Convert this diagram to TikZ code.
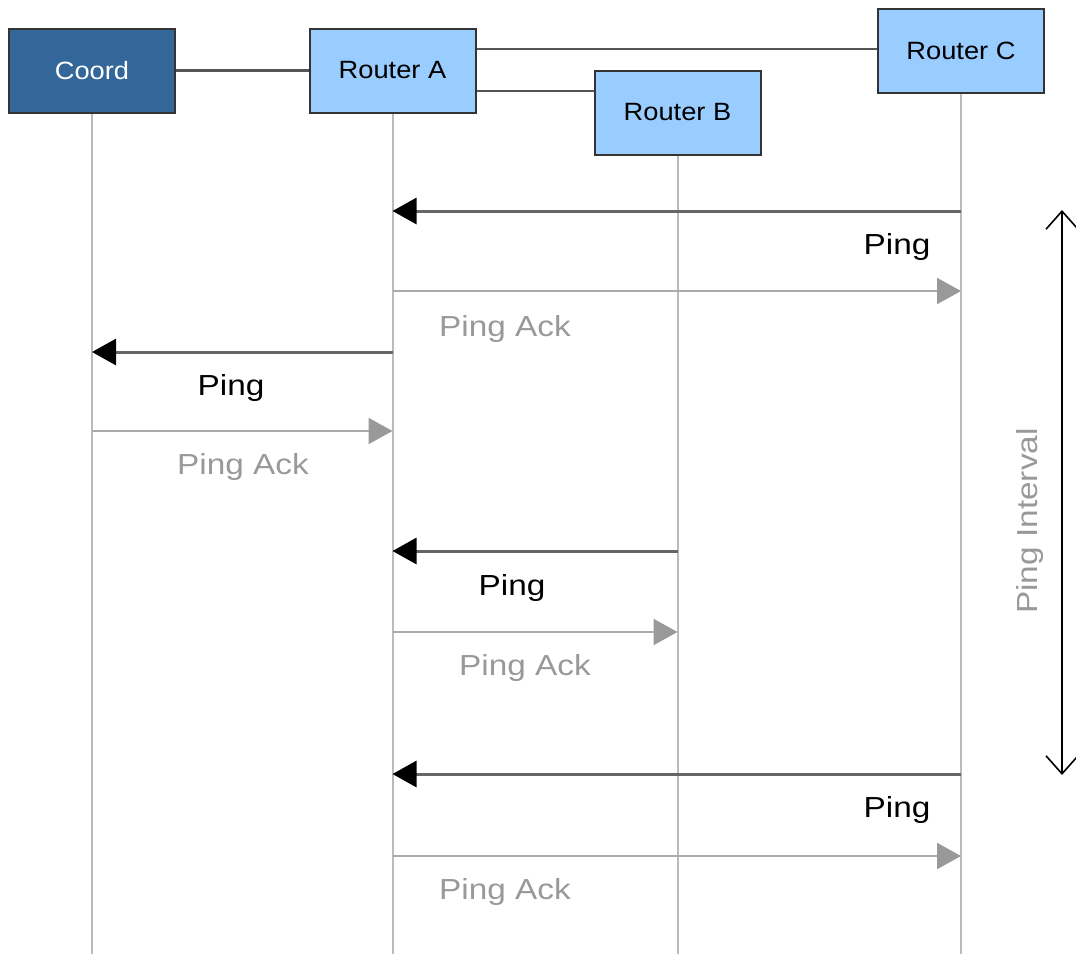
\documentclass[tikz,border=0pt]{standalone}
\usepackage{fontspec}
\setmainfont{Liberation Sans}
\newfontfamily\boxfont[FakeStretch=1.09]{Liberation Sans}
\newfontfamily\msgfont[FakeStretch=1.15]{Liberation Sans}
\usetikzlibrary{arrows.meta}
\definecolor{coordblue}{HTML}{336699}
\definecolor{routerblue}{HTML}{99CCFF}
\definecolor{boxedge}{HTML}{333333}
\definecolor{linkgray}{HTML}{555555}
\definecolor{lifegray}{HTML}{BBBBBB}
\definecolor{pinggray}{HTML}{666666}
\definecolor{ackgray}{HTML}{AAAAAA}
\definecolor{acktext}{HTML}{999999}

\begin{document}
\begin{tikzpicture}[x=1pt,y=-1pt,
  box/.style={draw=boxedge, line width=2pt, minimum width=166pt, minimum height=84pt,
              inner sep=0pt, font=\boxfont\fontsize{25}{30}\selectfont},
  router/.style={box, fill=routerblue, text=black},
  coordbox/.style={box, fill=coordblue, text=white},
  link/.style={draw=linkgray, line width=2.5pt},
  lifeline/.style={draw=lifegray, line width=2pt},
  ping/.style={draw=pinggray, line width=3pt,
               -{Triangle[length=24pt,width=26pt,color=black]}},
  ack/.style={draw=ackgray, line width=2pt,
              -{Triangle[length=24pt,width=26pt,color=acktext]}},
  pinglabel/.style={text=black, font=\msgfont\fontsize{29}{34}\selectfont},
  acklabel/.style={text=acktext, font=\msgfont\fontsize{29}{34}\selectfont},
  interval/.style={draw=black, line width=1.6pt,
                   {Straight Barb[length=18pt,width=32pt]}-{Straight Barb[length=18pt,width=32pt]}}
]
\useasboundingbox (0,0) rectangle (1076,954);

% participants
\node[coordbox] (coord) at (92,70.5) {Coord};
\node[router]   (A) at (392.5,70.5) {Router A};
\node[router]   (B) at (677.5,112.5) {Router B};
\node[router]   (C) at (961,50.5) {Router C};

% helper rows
\coordinate (bottom) at (0,954);
\coordinate (lineC) at (0,49);
\coordinate (lineB) at (0,91);
\foreach \n/\y in {1/211,2/291,3/352,4/431,5/551,6/632,7/774,8/856}
  \coordinate (row\n) at (0,\y);

% links between boxes
\draw[link] (coord.east) -- (A.west);
\draw[link] (A.east |- lineC) -- (C.west |- lineC);
\draw[link] (A.east |- lineB) -- (B.west |- lineB);

% lifelines
\draw[lifeline] (coord.south) -- (coord |- bottom);
\draw[lifeline] (A.south) -- (A |- bottom);
\draw[lifeline] (B.south) -- (B |- bottom);
\draw[lifeline] (C.south) -- (C |- bottom);

% messages
\draw[ping] (C |- row1) -- (A |- row1);
\draw[ack]  (A |- row2) -- (C |- row2);
\draw[ping] (A |- row3) -- (coord |- row3);
\draw[ack]  (coord |- row4) -- (A |- row4);
\draw[ping] (B |- row5) -- (A |- row5);
\draw[ack]  (A |- row6) -- (B |- row6);
\draw[ping] (C |- row7) -- (A |- row7);
\draw[ack]  (A |- row8) -- (C |- row8);

% message labels
\node[pinglabel] (l1) at (897,247) {Ping};
\node[acklabel]  (l2) at (505,329) {Ping Ack};
\node[pinglabel] (l3) at (231,388) {Ping};
\node[acklabel]  (l4) at (243,467) {Ping Ack};
\node[pinglabel] (l5) at (512,588) {Ping};
\node[acklabel]  (l6) at (525,668) {Ping Ack};
\node[pinglabel] (l7) at (897,810) {Ping};
\node[acklabel]  (l8) at (505,892) {Ping Ack};

% ping interval
\coordinate (itop) at (1062,210);
\coordinate (ibot) at (1062,775);
\draw[interval] (itop) -- (ibot);
\node[acklabel, rotate=90] (ilabel) at (1030,521) {Ping Interval};
\end{tikzpicture}
\end{document}
